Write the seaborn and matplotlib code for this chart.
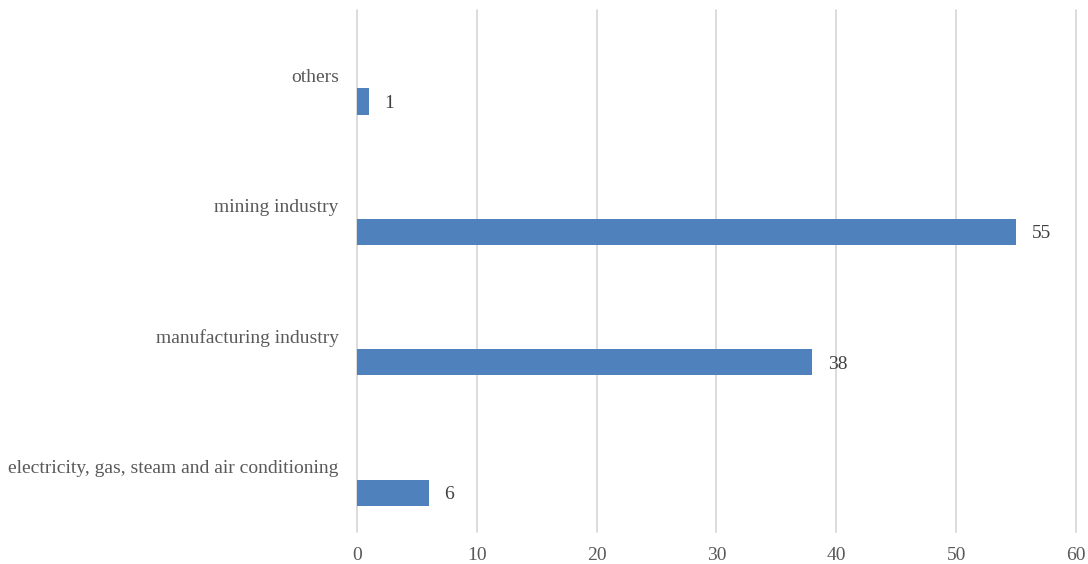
import matplotlib
matplotlib.use("Agg")
import matplotlib.pyplot as plt
import seaborn as sns
import pandas as pd
import numpy as np

categories = ["others", "mining industry", "manufacturing industry",
              "electricity, gas, steam and air conditioning"]
values = [1, 55, 38, 6]

sns.set_theme(style="white")
plt.rcParams['font.family'] = ['Liberation Serif', 'DejaVu Serif']

df = pd.DataFrame({
    "category": categories * 2,
    "value": [np.nan] * len(categories) + values,
    "series": ["blank"] * len(categories) + ["share"] * len(categories),
})

fig = plt.figure(figsize=(10.88, 5.64), dpi=100)
ax = fig.add_axes([0.328, 0.0567, 0.661, 0.9253])

sns.barplot(data=df, x="value", y="category", hue="series",
            hue_order=["blank", "share"], palette=["#4F81BD", "#4F81BD"],
            saturation=1, orient="h", width=0.8, gap=0.5, dodge=True,
            legend=False, ax=ax, order=categories, edgecolor="none", linewidth=0)

ax.set_xlim(0, 60)
ax.set_xticks(range(0, 61, 10))
ax.set_ylim(3.5, -0.5)
ax.set_xlabel("")
ax.set_ylabel("")
for s in ax.spines.values():
    s.set_visible(False)
ax.grid(axis="x", color="#D9D9D9", linewidth=1.3)
ax.grid(axis="y", visible=False)
for gl in ax.get_xgridlines():
    gl.set_clip_on(False)
ax.set_axisbelow(True)
ax.tick_params(axis="x", length=0, pad=11, labelsize=14, labelcolor="#595959")
ax.tick_params(axis="y", length=0, pad=13, labelsize=14, labelcolor="#595959")

for cont in ax.containers:
    labels = []
    for p in cont:
        w = p.get_width()
        labels.append("" if (w is None or np.isnan(w) or w == 0) else f"{w:g}")
    txts = ax.bar_label(cont, labels=labels, padding=11, fontsize=14, color="#404040")
    for t in txts:
        t.set_va("center_baseline")

fig.savefig("out.png", dpi=100)
